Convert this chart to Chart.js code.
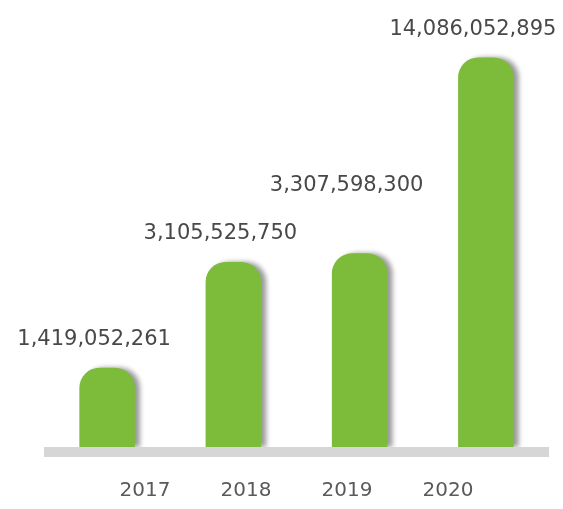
<!DOCTYPE html>
<html lang="en">
<head>
    <meta charset="UTF-8">
    <meta name="viewport" content="width=device-width, initial-scale=1.0">
    <title>Annual Amounts 2017-2020</title>
    <script src="https://cdn.jsdelivr.net/npm/chart.js"></script>
    <style>
        html, body {
            margin: 0;
            padding: 0;
            background: #ffffff;
        }
        .chart-container {
            position: relative;
            width: 563px;
            height: 509px;
        }
    </style>
</head>
<body>
    <div class="chart-container">
        <canvas id="amountChart"></canvas>
    </div>

    <script>
        const years = ['2017', '2018', '2019', '2020'];
        const amounts = [1419052261, 3105525750, 3307598300, 14086052895];
        // year labels sit on their own axis, padded with blank slots at both ends
        const yearTicks = [''].concat(years, ['']);

        // soft shadow on the right side of each bar
        const barShadow = {
            id: 'barShadow',
            beforeDatasetsDraw(chart) {
                const c = chart.ctx;
                c.save();
                c.shadowColor = 'rgba(0, 0, 0, 0.4)';
                c.shadowBlur = 5;
                c.shadowOffsetX = 5;
                c.shadowOffsetY = 0;
            },
            afterDatasetsDraw(chart) {
                chart.ctx.restore();
            }
        };

        // value labels above the bars, lifted when they would run into the previous one
        const valueLabels = {
            id: 'valueLabels',
            afterDraw(chart) {
                const c = chart.ctx;
                const bars = chart.getDatasetMeta(0).data;
                const lineH = 24;
                let prev = null;
                c.save();
                c.font = '21px "DejaVu Sans"';
                c.fillStyle = '#484848';
                c.textAlign = 'center';
                c.textBaseline = 'middle';
                bars.forEach((bar, i) => {
                    const text = amounts[i].toLocaleString('en-US');
                    const w = c.measureText(text).width;
                    const x = bar.x - 13;
                    let y = bar.y - 28;
                    if (prev && x - w / 2 < prev.right && Math.abs(y - prev.y) < lineH) {
                        y = prev.y - lineH * 2;
                    }
                    c.fillText(text, x, y);
                    prev = { right: x + w / 2, y: y };
                });
                c.restore();
            }
        };

        const config = {
            type: 'bar',
            data: {
                labels: years,
                datasets: [{
                    data: amounts,
                    backgroundColor: '#7dbb3b',
                    borderWidth: 0,
                    borderSkipped: 'bottom',
                    borderRadius: { topLeft: 20, topRight: 20, bottomLeft: 0, bottomRight: 0 },
                    barPercentage: 0.44,
                    categoryPercentage: 1
                }]
            },
            options: {
                responsive: true,
                maintainAspectRatio: false,
                animation: false,
                layout: {
                    padding: { left: 44, right: 14, top: 10, bottom: 5 }
                },
                plugins: {
                    legend: { display: false },
                    tooltip: { enabled: false }
                },
                scales: {
                    y: {
                        type: 'logarithmic',
                        display: false,
                        min: 790000000,
                        max: 20000000000
                    },
                    x: {
                        weight: 0,
                        backgroundColor: '#d6d6d6',
                        grid: { display: false, drawTicks: false },
                        border: { display: false },
                        ticks: { display: false },
                        afterFit: (scale) => { scale.height = 10; }
                    },
                    x2: {
                        type: 'category',
                        position: 'bottom',
                        weight: 1,
                        labels: yearTicks,
                        offset: false,
                        grid: { display: false, drawTicks: false },
                        border: { display: false },
                        ticks: {
                            autoSkip: false,
                            maxRotation: 0,
                            padding: 22,
                            color: '#5a5a5a',
                            font: { family: 'DejaVu Sans', size: 20 }
                        },
                        afterFit: (scale) => {
                            scale.height = 47;
                            scale.paddingLeft = 0;
                            scale.paddingRight = 0;
                        }
                    }
                }
            },
            plugins: [barShadow, valueLabels]
        };

        const ctx = document.getElementById('amountChart').getContext('2d');
        const amountChart = new Chart(ctx, config);
    </script>
</body>
</html>
